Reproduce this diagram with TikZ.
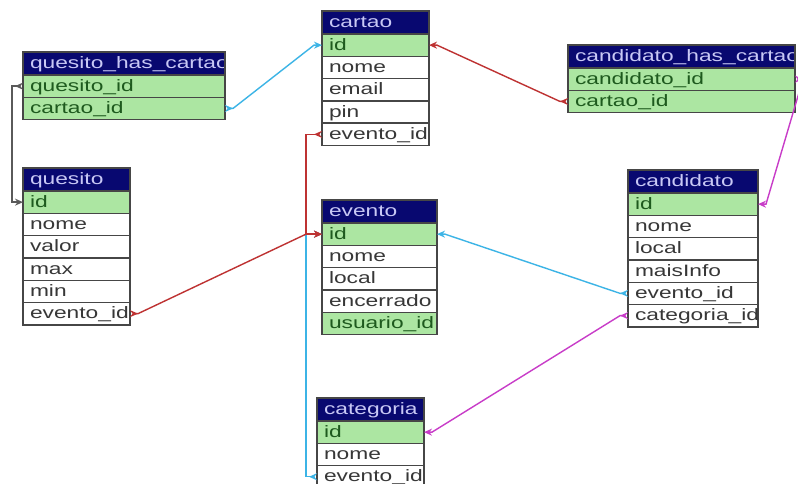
\documentclass[tikz,border=0pt]{standalone}
\usepackage{fontspec}
\usepackage{graphicx}
\usetikzlibrary{arrows.meta}
\newfontfamily\tablefamily{Liberation Sans}
\newcommand\cellfont{\tablefamily\fontsize{16.5pt}{18pt}\selectfont}
\newcommand\cellstrut{\rule[-6.15pt]{0pt}{22.3pt}}
\newcommand\wide[1]{\scalebox{1.38}[1]{#1}}

\definecolor{navy}{RGB}{8,8,112}
\definecolor{headink}{RGB}{200,200,245}
\definecolor{keyfill}{RGB}{172,230,162}
\definecolor{keyink}{RGB}{30,90,30}
\definecolor{plainink}{RGB}{55,55,55}
\definecolor{cellline}{RGB}{70,70,70}
\definecolor{relblue}{RGB}{60,180,230}
\definecolor{relred}{RGB}{190,50,50}
\definecolor{relpink}{RGB}{200,60,200}
\definecolor{relgray}{RGB}{90,90,90}

\tikzset{
  cell/.style={draw=cellline, line width=1.4pt, minimum height=22.3pt,
    inner xsep=7pt, inner ysep=0pt, outer sep=0pt, anchor=north west,
    align=left, font=\cellfont},
  keycell/.style={cell, fill=keyfill, text=keyink},
  plaincell/.style={cell, fill=white, text=plainink},
  headcell/.style={draw=cellline, line width=1.4pt, fill=navy,
    minimum height=23pt, inner sep=0pt, outer sep=0pt, anchor=north west,
    path picture={\pgftext[left,base,at={\pgfpointadd
        {\pgfpointanchor{path picture bounding box}{west}}
        {\pgfpoint{7pt}{-5pt}}}]{\color{headink}\cellfont\wide{#1}}}},
  relation/.style={line width=1.4pt,
    {Stealth[reversed,length=8pt,width=7pt]}-{Stealth[length=8pt,width=7pt]}}
}

\begin{document}
\begin{tikzpicture}[x=1pt,y=-1pt]
  \fill[white] (0,0) rectangle (798,484);
  \useasboundingbox (0,0) rectangle (798,484);

  % quesito_has_cartao
  \node[headcell={quesito\_has\_cartao}, minimum width=202pt] (qhc) at (23,52) {};
  \foreach \f/\lbl/\kind [count=\i] in {quesito/quesito\_id/keycell, cartao/cartao\_id/keycell}
    \node[\kind, text width=188pt] (qhc-\f) at (23,{52+23+(\i-1)*22.3}) {\cellstrut\wide{\lbl}};

  % cartao
  \node[headcell={cartao}, minimum width=107pt] (cartao) at (322,11) {};
  \foreach \f/\lbl/\kind [count=\i] in {id/id/keycell, nome/nome/plaincell, email/email/plaincell,
      pin/pin/plaincell, evento/evento\_id/plaincell}
    \node[\kind, text width=93pt] (cartao-\f) at (322,{11+23+(\i-1)*22.3}) {\cellstrut\wide{\lbl}};

  % candidato_has_cartao
  \node[headcell={candidato\_has\_cartao}, minimum width=227pt] (chc) at (568,45) {};
  \foreach \f/\lbl/\kind [count=\i] in {candidato/candidato\_id/keycell, cartao/cartao\_id/keycell}
    \node[\kind, text width=213pt] (chc-\f) at (568,{45+23+(\i-1)*22.3}) {\cellstrut\wide{\lbl}};

  % quesito
  \node[headcell={quesito}, minimum width=107pt] (quesito) at (23,168) {};
  \foreach \f/\lbl/\kind [count=\i] in {id/id/keycell, nome/nome/plaincell, valor/valor/plaincell,
      max/max/plaincell, min/min/plaincell, evento/evento\_id/plaincell}
    \node[\kind, text width=93pt] (quesito-\f) at (23,{168+23+(\i-1)*22.3}) {\cellstrut\wide{\lbl}};

  % evento
  \node[headcell={evento}, minimum width=115pt] (evento) at (322,200) {};
  \foreach \f/\lbl/\kind [count=\i] in {id/id/keycell, nome/nome/plaincell, local/local/plaincell,
      encerrado/encerrado/plaincell, usuario/usuario\_id/keycell}
    \node[\kind, text width=101pt] (evento-\f) at (322,{200+23+(\i-1)*22.3}) {\cellstrut\wide{\lbl}};

  % candidato
  \node[headcell={candidato}, minimum width=130pt] (candidato) at (628,170) {};
  \foreach \f/\lbl/\kind [count=\i] in {id/id/keycell, nome/nome/plaincell, local/local/plaincell,
      info/maisInfo/plaincell, evento/evento\_id/plaincell, categoria/categoria\_id/plaincell}
    \node[\kind, text width=116pt] (candidato-\f) at (628,{170+23+(\i-1)*22.3}) {\cellstrut\wide{\lbl}};

  % categoria
  \node[headcell={categoria}, minimum width=107pt] (categoria) at (317,398) {};
  \foreach \f/\lbl/\kind [count=\i] in {id/id/keycell, nome/nome/plaincell, evento/evento\_id/plaincell}
    \node[\kind, text width=93pt] (categoria-\f) at (317,{398+23+(\i-1)*22.3}) {\cellstrut\wide{\lbl}};

  % Relations
  \draw[relation, relgray] (qhc-quesito.west) -- ++(-11,0) |- (quesito-id.west);
  \draw[relation, relblue] (qhc-cartao.east) -- ++(8,0) -- ([xshift=-8pt]cartao-id.west) -- (cartao-id.west);
  \draw[relation, relred] (chc-cartao.west) -- ++(-8,0) -- ([xshift=8pt]cartao-id.east) -- (cartao-id.east);
  \draw[relation, relpink] (chc-candidato.east) -- ++(8,0) -- ([xshift=8pt]candidato-id.east) -- (candidato-id.east);
  \draw[relation, relblue] (categoria-evento.west) -- ++(-11,0) |- (evento-id.west);
  \draw[relation, relred] (cartao-evento.west) -- ++(-16,0) |- (evento-id.west);
  \draw[relation, relred] (quesito-evento.east) -- ++(8,0) -- ([xshift=-16pt]evento-id.west) -- (evento-id.west);
  \draw[relation, relblue] (candidato-evento.west) -- ++(-8,0) -- ([xshift=8pt]evento-id.east) -- (evento-id.east);
  \draw[relation, relpink] (candidato-categoria.west) -- ++(-8,0) -- ([xshift=8pt]categoria-id.east) -- (categoria-id.east);
\end{tikzpicture}
\end{document}
